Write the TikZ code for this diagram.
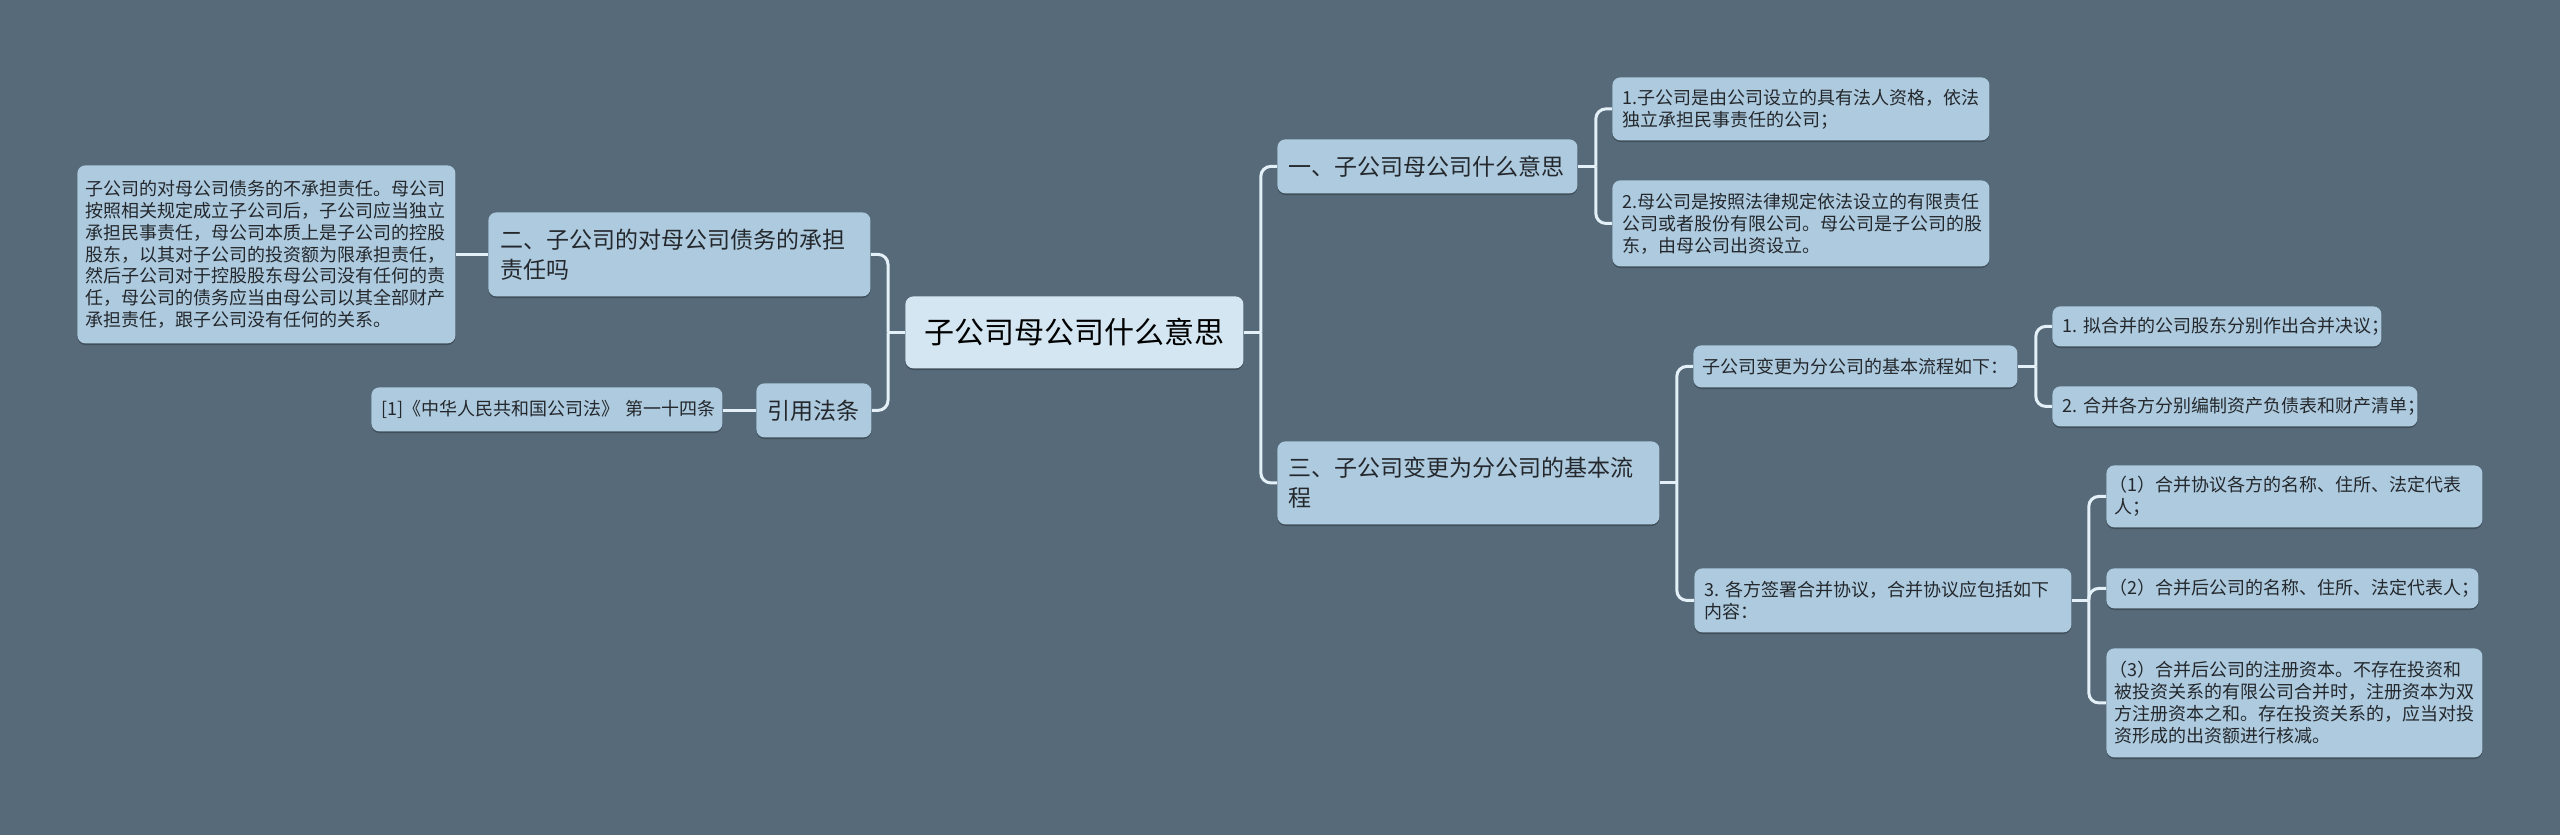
\documentclass[tikz,border=0pt]{standalone}
\usepackage{fontspec}
\setmainfont{Noto Sans CJK SC}
\usetikzlibrary{shadows}
\definecolor{bg}{RGB}{86,106,121}
\definecolor{nodefill}{RGB}{173,202,223}
\definecolor{rootfill}{RGB}{211,230,242}
\definecolor{linec}{RGB}{228,240,248}
\definecolor{txt}{RGB}{36,40,44}
\tikzset{
  box/.style={fill=nodefill, rounded corners=4pt, anchor=north west, align=left,
    inner ysep=0pt, text=txt,
    drop shadow={shadow xshift=0pt, shadow yshift=-0.8pt, opacity=0.25, fill=black}},
  rootbox/.style={box, fill=rootfill, align=center, text=black},
  big/.style={font=\fontsize{11.5pt}{15pt}\selectfont},
  small/.style={font=\fontsize{9pt}{11pt}\selectfont},
  smallL/.style={font=\fontsize{9pt}{10.85pt}\selectfont},
  huge/.style={font=\fontsize{15pt}{18pt}\selectfont},
  conn/.style={draw=linec, line width=1.5pt},
  rconn/.style={conn, rounded corners=5pt}
}
\begin{document}
\begin{tikzpicture}[x=0.5pt,y=-0.5pt]
\fill[bg] (0,0) rectangle (2560,835);
\useasboundingbox (0,0) rectangle (2560,835);

% root
\node[rootbox, huge, inner xsep=5pt, text width=159pt, minimum height=36pt] (root) at (905,296) {子公司母公司什么意思};

% left side
\node[box, big, inner xsep=6pt, text width=179pt, minimum height=42pt] (n2) at (488,212)
  {二、子公司的对母公司债务的承担\\责任吗};
\node[box, smallL, inner xsep=4pt, text width=181pt, minimum height=89pt] (leafL) at (77,165)
  {子公司的对母公司债务的不承担责任。母公司\\按照相关规定成立子公司后，子公司应当独立\\承担民事责任，母公司本质上是子公司的控股\\股东，以其对子公司的投资额为限承担责任，\\然后子公司对于控股股东母公司没有任何的责\\任，母公司的债务应当由母公司以其全部财产\\承担责任，跟子公司没有任何的关系。};
\node[box, big, align=center, inner xsep=0pt, text width=57.5pt, minimum height=27pt] (cite) at (756,383) {引用法条};
\node[box, small, inner xsep=5pt, text width=165.5pt, minimum height=22pt] (citeT) at (371,387)
  {[1]《中华人民共和国公司法》~第一十四条};

% right side, level 1
\node[box, big, inner xsep=5.5pt, text width=139pt, minimum height=27pt] (a1) at (1277,139) {一、子公司母公司什么意思};
\node[box, big, inner xsep=5.5pt, text width=180pt, minimum height=41.5pt] (a3) at (1277,441)
  {三、子公司变更为分公司的基本流\\程};

% children of a1
\node[box, small, inner xsep=5pt, text width=178.5pt, minimum height=31.5pt] (l1) at (1612,77)
  {1.子公司是由公司设立的具有法人资格，依法\\独立承担民事责任的公司；};
\node[box, small, inner xsep=5pt, text width=178.5pt, minimum height=43pt] (l2) at (1612,180)
  {2.母公司是按照法律规定依法设立的有限责任\\公司或者股份有限公司。母公司是子公司的股\\东，由母公司出资设立。};

% children of a3
\node[box, small, inner xsep=4.5pt, text width=153pt, minimum height=21pt] (b1) at (1693,345)
  {子公司变更为分公司的基本流程如下：};
\node[box, small, inner xsep=5pt, text width=178.5pt, minimum height=32pt] (b2) at (1694,568)
  {3.~各方签署合并协议，合并协议应包括如下\\内容：};

% children of b1
\node[box, small, inner xsep=5pt, text width=154.5pt, minimum height=20pt] (c1) at (2052,306)
  {1.~拟合并的公司股东分别作出合并决议；};
\node[box, small, inner xsep=5pt, text width=172.5pt, minimum height=20pt] (c2) at (2052,386)
  {2.~合并各方分别编制资产负债表和财产清单；};

% children of b2
\node[box, small, inner xsep=4pt, text width=180pt, minimum height=31pt] (d1) at (2106,465)
  {\kern-0.25em（1）合并协议各方的名称、住所、法定代表\\人；};
\node[box, small, inner xsep=4pt, text width=178pt, minimum height=20pt] (d2) at (2106,568)
  {\kern-0.25em（2）合并后公司的名称、住所、法定代表人；};
\node[box, small, inner xsep=4pt, text width=180pt, minimum height=54.5pt] (d3) at (2106,648)
  {\kern-0.25em（3）合并后公司的注册资本。不存在投资和\\被投资关系的有限公司合并时，注册资本为双\\方注册资本之和。存在投资关系的，应当对投\\资形成的出资额进行核减。};

% junction coordinates
\path (root.west) ++(-17,0) coordinate (jL);
\path (root.east) ++(17,0) coordinate (jR);
\path (a1.east) ++(18,0) coordinate (jA1);
\path (a3.east) ++(17,0) coordinate (jA3);
\path (b1.east) ++(18,0) coordinate (jB1);
\path (b2.east) ++(17,0) coordinate (jB2);

% connectors
\draw[conn] (root.west) -- (jL);
\draw[rconn] (jL) |- (n2.east);
\draw[rconn] (jL) |- (cite.east);
\draw[conn] (n2.west) -- (n2.west -| leafL.east);
\draw[conn] (cite.west) -- (cite.west -| citeT.east);

\draw[conn] (root.east) -- (jR);
\draw[rconn] (jR) |- (a1.west);
\draw[rconn] (jR) |- (a3.west);

\draw[conn] (a1.east) -- (jA1);
\draw[rconn] (jA1) |- (l1.west);
\draw[rconn] (jA1) |- (l2.west);

\draw[conn] (a3.east) -- (jA3);
\draw[rconn] (jA3) |- (b1.west);
\draw[rconn] (jA3) |- (b2.west);

\draw[conn] (b1.east) -- (jB1);
\draw[rconn] (jB1) |- (c1.west);
\draw[rconn] (jB1) |- (c2.west);

\draw[conn] (b2.east) -- (jB2);
\draw[rconn] (jB2) |- (d1.west);
\draw[rconn] (jB2) |- (d2.west);
\draw[rconn] (jB2) |- (d3.west);
\end{tikzpicture}
\end{document}
